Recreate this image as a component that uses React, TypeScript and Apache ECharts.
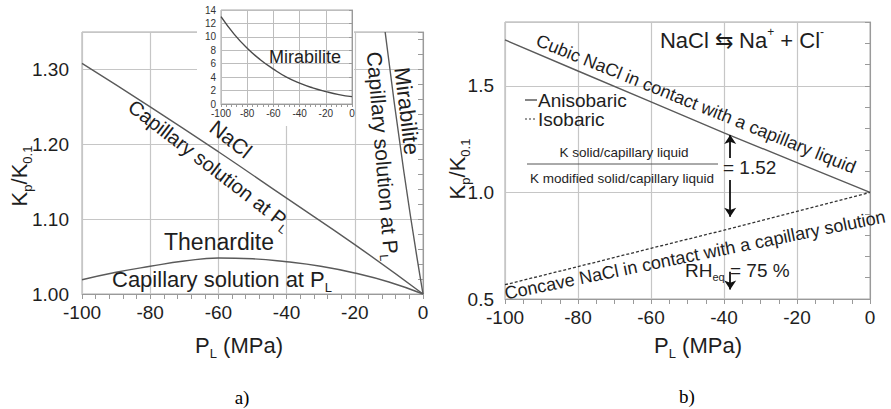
import React, { useEffect, useRef } from "react";
import * as echarts from "echarts";

// ---- Panel a) data ----
const naclX = [-100, -80, -60, -40, -20, 0];
const naclY = [1.308, 1.25, 1.19, 1.128, 1.066, 1.0];
const thenX = [-100, -90, -80, -70, -60, -50, -40, -30, -20, -10, 0];
const thenY = [1.019, 1.029, 1.037, 1.044, 1.048, 1.047, 1.043, 1.037, 1.028, 1.016, 1.0];
const mirabX = [-11.1, -5.6, 0];
const mirabY = [1.35, 1.163, 1.0];
// inset (mirabilite, full range)
const insetX = [-100, -90, -80, -70, -60, -50, -40, -30, -20, -10, 0];
const insetY = [13.0, 10.4, 8.3, 6.6, 5.2, 4.0, 3.1, 2.4, 1.85, 1.4, 1.1];

// ---- Panel b) data ----
const bX = [-100, -80, -60, -40, -20, 0];
const anisoY = [1.716, 1.57, 1.425, 1.28, 1.14, 1.0];
const isoY = [0.567, 0.652, 0.738, 0.823, 0.911, 1.0];
const arrowX = -38.3;
const arrowUp = [1.162, 1.27];
const arrowDown = [1.059, 0.886];
const arrowRH = [0.628, 0.544];

const FONT = '"Liberation Sans", Arial, Helvetica, sans-serif';
const SERIF = '"Liberation Serif", "Times New Roman", serif';
const TXT = "#1e1e1e";
const LINE = "#5a5a5a";
const GRIDC = "#c6c6c6";
const AXC = "#9a9a9a";

const zip = (xs: number[], ys: number[]) => xs.map((x, i) => [x, ys[i]]);
const isMult = (v: number, step: number) => Math.abs(v / step - Math.round(v / step)) < 1e-6;

const rich = (size: number, sub: number) => ({
  b: { fontSize: size, fontFamily: FONT, fill: TXT, lineHeight: Math.round(size * 1.3) },
  s: { fontSize: sub, fontFamily: FONT, fill: TXT, lineHeight: Math.round(sub * 1.1), verticalAlign: "bottom" },
  p: { fontSize: sub, fontFamily: FONT, fill: TXT, lineHeight: Math.round(sub * 1.1), verticalAlign: "top" },
});

const txt = (x: number, y: number, text: string, r: any, rotDeg = 0, align = "center") => ({
  type: "text",
  x,
  y,
  rotation: (rotDeg * Math.PI) / 180,
  z: 20,
  style: { text, rich: r, align, verticalAlign: "middle", fill: TXT, fontFamily: FONT },
});

export default function App() {
  const ref = useRef<HTMLDivElement>(null);
  useEffect(() => {
    if (!ref.current) return;
    const chart = echarts.init(ref.current, null, { renderer: "svg" });
    const mainLabel = { color: TXT, fontSize: 19, fontFamily: FONT };
    const option: any = {
      animation: false,
      backgroundColor: "#fff",
      grid: [
        { left: 82, top: 32, width: 341, height: 262, show: true, borderColor: "#a8a8a8", borderWidth: 1, z: 0 },
        { left: 505, top: 22, width: 365, height: 277, show: true, borderColor: "#a8a8a8", borderWidth: 1, z: 0 },
        { left: 221, top: 10, width: 131, height: 94, show: true, borderColor: "#a8a8a8", borderWidth: 1, backgroundColor: "#fff", z: 6 },
      ],
      xAxis: [
        {
          type: "value", gridIndex: 0, min: -100, max: 0, interval: 20,
          axisLine: { show: true, lineStyle: { color: AXC } },
          axisTick: { show: true, length: 5, lineStyle: { color: AXC } },
          minorTick: { show: true, splitNumber: 5, length: 5, lineStyle: { color: AXC } },
          splitLine: { show: true, lineStyle: { color: GRIDC, width: 1.2 } },
          axisLabel: { ...mainLabel, margin: 9 },
        },
        {
          type: "value", gridIndex: 1, min: -100, max: 0, interval: 20,
          axisLine: { show: true, lineStyle: { color: AXC } },
          axisTick: { show: true, length: 5, lineStyle: { color: AXC } },
          minorTick: { show: true, splitNumber: 4, length: 5, lineStyle: { color: AXC } },
          splitLine: { show: true, lineStyle: { color: GRIDC, width: 1.2 } },
          axisLabel: { ...mainLabel, margin: 9 },
        },
        {
          type: "value", gridIndex: 2, min: -100, max: 0, interval: 20, z: 7,
          axisLine: { show: true, lineStyle: { color: AXC } },
          axisTick: { show: true, length: 3, lineStyle: { color: AXC } },
          minorTick: { show: true, splitNumber: 5, length: 3, lineStyle: { color: AXC } },
          splitLine: { show: true, lineStyle: { color: "#bdbdbd" } },
          axisLabel: { color: "#333", fontSize: 10, fontFamily: FONT, margin: 4 },
        },
      ],
      yAxis: [
        {
          type: "value", gridIndex: 0, min: 1, max: 1.35, interval: 0.02,
          axisLine: { show: true, lineStyle: { color: AXC } },
          axisTick: { show: true, length: 5, lineStyle: { color: AXC } },
          splitLine: { show: false },
          axisLabel: { ...mainLabel, margin: 13, formatter: (v: number) => (isMult(v, 0.1) ? v.toFixed(2) : "") },
        },
        {
          type: "value", gridIndex: 0, min: 1, max: 1.35, interval: 0.1,
          axisLine: { show: false }, axisTick: { show: false }, axisLabel: { show: false },
          splitLine: { show: true, lineStyle: { color: GRIDC, width: 1.2 } },
        },
        {
          type: "value", gridIndex: 1, min: 0.5, max: 1.8, interval: 0.1,
          axisLine: { show: true, lineStyle: { color: AXC } },
          axisTick: { show: true, length: 5, lineStyle: { color: AXC } },
          splitLine: { show: false },
          axisLabel: { ...mainLabel, margin: 11, formatter: (v: number) => (isMult(v, 0.5) ? v.toFixed(1) : "") },
        },
        {
          type: "value", gridIndex: 1, min: 0.5, max: 1.8, interval: 0.5,
          axisLine: { show: false }, axisTick: { show: false }, axisLabel: { show: false },
          splitLine: { show: true, lineStyle: { color: GRIDC, width: 1.2 } },
        },
        {
          type: "value", gridIndex: 2, min: 0, max: 14, interval: 2, z: 7,
          axisLine: { show: true, lineStyle: { color: AXC } },
          axisTick: { show: true, length: 3, lineStyle: { color: AXC } },
          splitLine: { show: true, lineStyle: { color: "#bdbdbd" } },
          axisLabel: { color: "#333", fontSize: 10, fontFamily: FONT, margin: 5 },
        },
      ],
      series: [
        { type: "line", name: "NaCl", xAxisIndex: 0, yAxisIndex: 0, data: zip(naclX, naclY), symbol: "none", smooth: true, lineStyle: { color: LINE, width: 1.4 } },
        { type: "line", name: "Thenardite", xAxisIndex: 0, yAxisIndex: 0, data: zip(thenX, thenY), symbol: "none", smooth: true, lineStyle: { color: LINE, width: 1.4 } },
        { type: "line", name: "Mirabilite", xAxisIndex: 0, yAxisIndex: 0, data: zip(mirabX, mirabY), symbol: "none", smooth: true, lineStyle: { color: LINE, width: 1.4 } },
        { type: "line", name: "Mirabilite inset", xAxisIndex: 2, yAxisIndex: 4, z: 8, data: zip(insetX, insetY), symbol: "none", smooth: true, lineStyle: { color: "#4a4a4a", width: 1.4 } },
        {
          type: "line", name: "Anisobaric", xAxisIndex: 1, yAxisIndex: 2, data: zip(bX, anisoY), symbol: "none", lineStyle: { color: LINE, width: 1.4 },
          markLine: {
            silent: true, symbol: ["none", "arrow"], symbolSize: 9, label: { show: false },
            lineStyle: { color: "#111", width: 1.8, type: "solid" },
            data: [
              [{ coord: [arrowX, arrowUp[0]] }, { coord: [arrowX, arrowUp[1]] }],
              [{ coord: [arrowX, arrowDown[0]] }, { coord: [arrowX, arrowDown[1]] }],
              [{ coord: [arrowX, arrowRH[0]] }, { coord: [arrowX, arrowRH[1]] }],
            ],
          },
        },
        { type: "line", name: "Isobaric", xAxisIndex: 1, yAxisIndex: 2, data: zip(bX, isoY), symbol: "none", lineStyle: { color: "#333", width: 1.3, type: [3, 2] } },
      ],
      graphic: [
        { type: "rect", shape: { x: 197, y: 0, width: 157, height: 126 }, style: { fill: "#fff" }, z: 5 },
        // panel a
        txt(19, 176, "{b|K}{s|p}{b|/K}{s|0.1}", rich(22, 13), 90),
        txt(239, 345, "{b|P}{s|L}{b| (MPa)}", rich(22, 13)),
        { type: "text", x: 242, y: 397, z: 20, style: { text: "a)", font: `19px ${SERIF}`, fill: "#000", align: "center", verticalAlign: "middle" } },
        txt(231, 139, "{b|NaCl}", rich(21, 12), -38),
        txt(210, 165, "{b|Capillary solution at P}{s|L}", rich(20, 12), -37.5),
        txt(219, 242, "{b|Thenardite}", rich(23, 13)),
        txt(222, 279, "{b|Capillary solution at P}{s|L}", rich(22, 13)),
        txt(407, 111, "{b|Mirabilite}", rich(22, 13), -83.2),
        txt(383, 156, "{b|Capillary solution at P}{s|L}", rich(21, 12), -85.2),
        txt(305, 57, "{b|Mirabilite}", rich(18, 11)),
        // panel b
        txt(457, 169, "{b|K}{s|p}{b|/K}{s|0.1}", rich(22, 13), 90),
        txt(698, 345, "{b|P}{s|L}{b| (MPa)}", rich(22, 13)),
        { type: "text", x: 687, y: 396, z: 20, style: { text: "b)", font: `19px ${SERIF}`, fill: "#000", align: "center", verticalAlign: "middle" } },
        txt(742, 40, "{b|NaCl ⇆ Na}{p|+}{b| + Cl}{p|-}", rich(22, 12)),
        { type: "line", z: 20, shape: { x1: 525, y1: 100, x2: 537, y2: 100 }, style: { stroke: "#333", lineWidth: 1.2 } },
        txt(538, 100, "{b|Anisobaric}", rich(19, 11), 0, "left"),
        { type: "line", z: 20, shape: { x1: 525, y1: 119, x2: 537, y2: 119 }, style: { stroke: "#333", lineWidth: 1.2, lineDash: [2, 2] } },
        txt(538, 119, "{b|Isobaric}", rich(19, 11), 0, "left"),
        txt(624, 152, "{b|K solid/capillary liquid}", rich(13.5, 9)),
        { type: "line", z: 20, shape: { x1: 527, y1: 164, x2: 718, y2: 164 }, style: { stroke: "#555", lineWidth: 1 } },
        txt(622, 178, "{b|K modified solid/capillary liquid}", rich(13.5, 9)),
        txt(723, 167, "{b|= 1.52}", rich(19, 11), 0, "left"),
        txt(696, 104, "{b|Cubic NaCl in contact with a capillary liquid}", rich(18, 11), -22),
        txt(695, 255, "{b|Concave NaCl in contact with a capillary solution}", rich(18, 11), 11.5),
        txt(685, 270, "{b|RH}{s|eq}{b| = 75 %}", rich(19, 11), 0, "left"),
      ],
    };
    chart.setOption(option);
    return () => chart.dispose();
  }, []);
  return <div ref={ref} style={{ position: "absolute", left: 0, top: 0, width: 891, height: 409 }} />;
}
